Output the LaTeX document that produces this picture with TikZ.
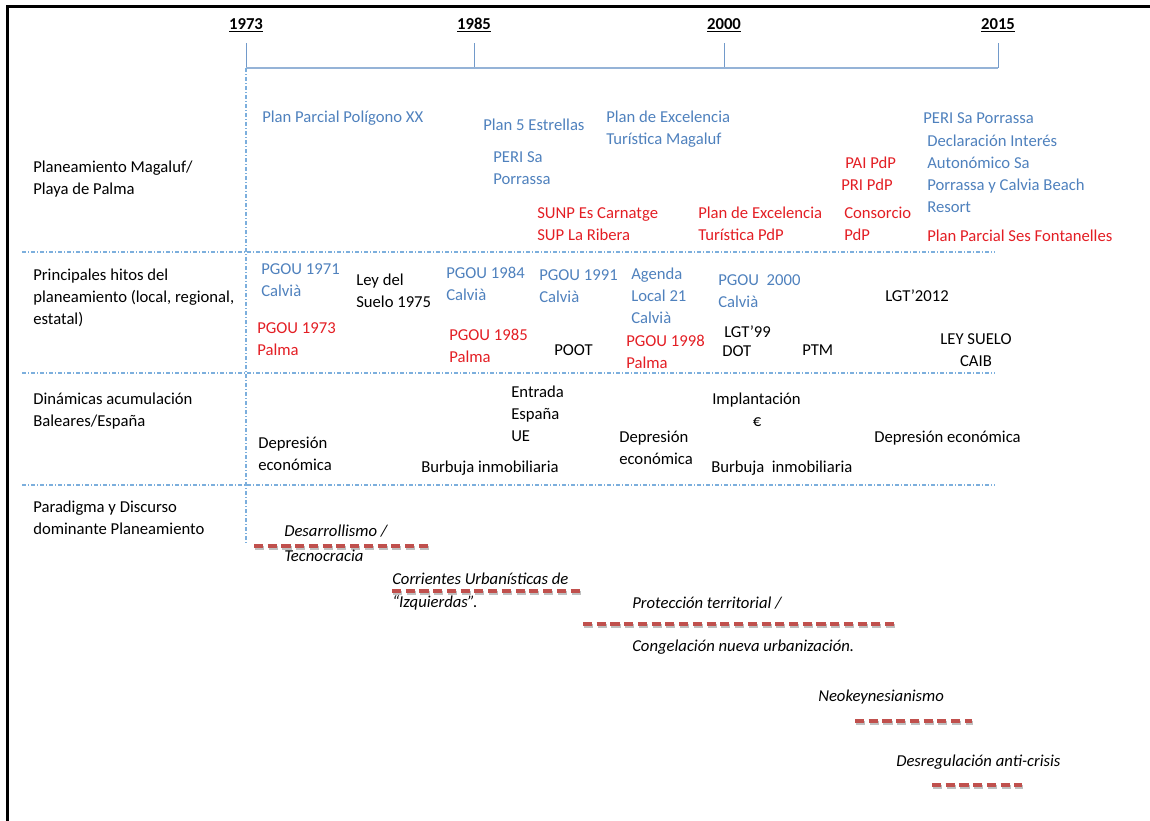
\documentclass[tikz,border=0pt]{standalone}
\usepackage{fontspec}
\setmainfont{Carlito}
\usetikzlibrary{positioning}

\definecolor{planblue}{RGB}{79,129,189}
\definecolor{planred}{RGB}{227,30,36}
\definecolor{axisblue}{RGB}{149,179,215}
\definecolor{gridblue}{RGB}{91,155,213}
\definecolor{trendred}{RGB}{192,80,77}

\begin{document}
\begin{tikzpicture}[
  x=0.75pt, y=-0.75pt,
  font=\fontsize{12.5}{16.5}\selectfont,
  txt/.style={anchor=west, inner sep=0pt, align=left},
  bluetxt/.style={txt, text=planblue},
  redtxt/.style={txt, text=planred},
  trendtxt/.style={txt, font=\fontsize{12.5}{16.5}\selectfont\itshape},
  year/.style={inner sep=0pt, font=\fontsize{12.5}{15}\selectfont\bfseries},
  axis/.style={axisblue, line width=2.2pt},
  tick/.style={planblue!80, line width=0.75pt},
  grid/.style={gridblue!80, line width=0.9pt, dash pattern=on 3pt off 1.5pt on 0.75pt off 1.5pt},
  trend/.style={trendred, line width=3pt, dash pattern=on 6.8pt off 3.5pt},
  trendshadow/.style={black, opacity=0.25, line width=3pt, dash pattern=on 6.8pt off 3.5pt}
]
\useasboundingbox (0,0) rectangle (1150,821);

% frame
\draw[line width=2.25pt] (7,821) -- (7,6) -- (1150,6);

% time axis
\foreach \yr/\xx in {1973/246, 1985/474, 2000/724, 2015/998} {
  \node[year] (y\yr) at (\xx,25) {\underline{\yr}};
  \coordinate (top\yr) at (\xx,43);
  \coordinate (t\yr) at (\xx,68);
  \draw[tick] (top\yr) -- (t\yr);
}
\draw[axis] (t1973) -- (t2015);

% grid
\coordinate (vend) at (246,545);
\draw[grid] (t1973) -- (vend);
\foreach \sep/\yy in {a/252, b/373, c/485} {
  \coordinate (\sep l) at (22,\yy);
  \coordinate (\sep r) at (995,\yy);
  \draw[grid] (\sep l) -- (\sep r);
}

% row titles
\node[txt] (magaluf) at (33,179) {Planeamiento Magaluf/\\Playa de Palma};
\node[txt] (hitos) at (33,298) {Principales hitos del\\planeamiento (local, regional,\\estatal)};
\node[txt] (dinamicas) at (33,411) {Dinámicas acumulación\\Baleares/España};
\node[txt] (paradigma) at (33,518) {Paradigma y Discurso\\dominante Planeamiento};

% Planeamiento Magaluf / Playa de Palma
\node[bluetxt] (ppxx) at (262,118) {Plan Parcial Polígono XX};
\node[bluetxt] (p5e) at (483,125) {Plan 5 Estrellas};
\node[bluetxt] (peri) at (493,168) {PERI Sa\\Porrassa};
\node[bluetxt] (pexm) at (606,129) {Plan de Excelencia\\Turística Magaluf};
\node[bluetxt] (peri2) at (923,118) {PERI Sa Porrassa};
\node[bluetxt] (decl) at (927,174) {Declaración Interés\\Autonómico Sa\\Porrassa y Calvia Beach\\Resort};
\node[redtxt] (sunp) at (537,224) {SUNP Es Carnatge\\SUP La Ribera};
\node[redtxt] (pexp) at (698,224) {Plan de Excelencia\\Turística PdP};
\node[redtxt] (pai) at (845,163) {PAI PdP};
\node[redtxt] (pri) at (841,185) {PRI PdP};
\node[redtxt] (consorcio) at (844,224) {Consorcio\\PdP};
\node[redtxt] (fontanelles) at (927,236) {Plan Parcial Ses Fontanelles};

% Principales hitos del planeamiento
\node[bluetxt] (pg71) at (261,280) {PGOU 1971\\Calvià};
\node[txt] (ls75) at (356,291) {Ley del\\Suelo 1975};
\node[bluetxt] (pg84) at (446,284) {PGOU 1984\\Calvià};
\node[bluetxt] (pg91) at (539,286) {PGOU 1991\\Calvià};
\node[bluetxt] (agenda) at (631,296) {Agenda\\Local 21\\Calvià};
\node[bluetxt] (pg00) at (718,291) {PGOU~ 2000\\Calvià};
\node[txt] (lgt12) at (885,296) {LGT’2012};
\node[redtxt] (pg73) at (257,339) {PGOU 1973\\Palma};
\node[redtxt] (pg85) at (449,346) {PGOU 1985\\Palma};
\node[txt] (poot) at (554,350) {POOT};
\node[redtxt] (pg98) at (626,352) {PGOU 1998\\Palma};
\node[txt] (lgt99) at (724,332) {LGT’99};
\node[txt] (dot) at (722,351) {DOT};
\node[txt] (ptm) at (802,350) {PTM};
\node[txt, anchor=center, align=center] (caib) at (976,350) {LEY SUELO\\CAIB};

% Dinamicas acumulacion
\node[txt] (ue) at (511,414) {Entrada\\España\\UE};
\node[txt] (dep1) at (258,454) {Depresión\\económica};
\node[txt] (burb1) at (421,468) {Burbuja inmobiliaria};
\node[txt] (dep2) at (619,448) {Depresión\\económica};
\node[txt] (euro) at (712,400) {Implantación};
\node[inner sep=0pt] (eurosym) at (757,422) {€};
\node[txt] (burb2) at (711,468) {Burbuja~ inmobiliaria};
\node[txt] (dep3) at (874,438) {Depresión económica};

% Paradigma y discurso
\node[trendtxt] (desarr) at (284,531) {Desarrollismo /};
\node[trendtxt] (tecno) at (284,556) {Tecnocracia};
\node[trendtxt] (corr) at (392,579) {Corrientes Urbanísticas de};
\node[trendtxt] (izq) at (392,603) {“Izquierdas”.};
\node[trendtxt] (prot) at (632,603) {Protección territorial /};
\node[trendtxt] (cong) at (632,647) {Congelación nueva urbanización.};
\node[trendtxt] (neok) at (818,697) {Neokeynesianismo};
\node[trendtxt] (desreg) at (896,762) {Desregulación anti-crisis};

\foreach \name/\xa/\xb/\yy in {d/254/432/546, c/392/580/591, p/583/897/624, n/855/972/721, r/932/1022/785} {
  \coordinate (\name a) at (\xa,\yy);
  \coordinate (\name b) at (\xb,\yy);
  \draw[trendshadow] ([shift={(1,1.5)}]\name a) -- ([shift={(1,1.5)}]\name b);
  \draw[trend] (\name a) -- (\name b);
}

\end{tikzpicture}
\end{document}
